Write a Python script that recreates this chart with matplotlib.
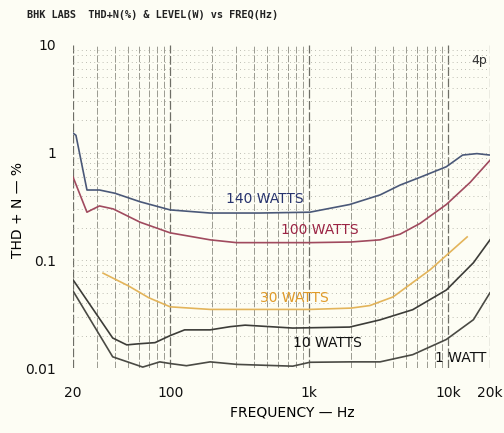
import numpy as np
import matplotlib.pyplot as plt

# THD+N (%) vs frequency (Hz)
freq_140w = [20, 21, 25.2, 31, 40, 60.8, 100, 194, 442, 1011, 1957, 3235, 4510, 6270, 9700, 12700, 16100, 20000]
thd_140w = [1.52, 1.45, 0.45, 0.45, 0.42, 0.35, 0.294, 0.275, 0.275, 0.28, 0.33, 0.405, 0.50, 0.59, 0.74, 0.95, 0.98, 0.95]

freq_100w = [20, 25.2, 28, 31, 39, 60.8, 100, 194, 300, 1011, 2000, 3235, 4510, 6270, 9700, 14400, 20000]
thd_100w = [0.595, 0.28, 0.30, 0.32, 0.30, 0.226, 0.18, 0.155, 0.146, 0.146, 0.148, 0.155, 0.175, 0.22, 0.33, 0.53, 0.85]

freq_30w = [32.9, 50, 70, 100, 194, 303, 1011, 2000, 2730, 4010, 7400, 13700]
thd_30w = [0.076, 0.058, 0.045, 0.037, 0.035, 0.035, 0.035, 0.036, 0.038, 0.0457, 0.0815, 0.165]

freq_10w = [20, 38.6, 48.7, 60, 77.8, 100, 127, 194, 270, 346, 762, 1957, 3235, 5560, 9700, 15200, 20000]
thd_10w = [0.066, 0.019, 0.0164, 0.0168, 0.0172, 0.020, 0.0226, 0.0226, 0.0242, 0.025, 0.0235, 0.024, 0.028, 0.0348, 0.053, 0.095, 0.155]

freq_1w = [20, 38.6, 63.5, 84.2, 100, 131, 194, 303, 762, 1011, 1957, 3235, 5560, 9700, 15200, 20000]
thd_1w = [0.052, 0.0127, 0.0102, 0.0114, 0.011, 0.0105, 0.0114, 0.0108, 0.0104, 0.0113, 0.0114, 0.0114, 0.0133, 0.0184, 0.0281, 0.05]

series = [
    (freq_140w, thd_140w, '#4a5878', '140 WATTS', '#27336e', 481, 0.372),
    (freq_100w, thd_100w, '#a04a5e', '100 WATTS', '#9b2444', 1196, 0.191),
    (freq_30w, thd_30w, '#e3b45a', '30 WATTS', '#e09a28', 778, 0.0448),
    (freq_10w, thd_10w, '#3c3c38', '10 WATTS', '#111111', 1343, 0.0171),
    (freq_1w, thd_1w, '#4a4a44', '1 WATT', '#111111', 12370, 0.0124),
]

bg = '#fdfdf4'
fig = plt.figure(figsize=(5.04, 4.33), dpi=100, facecolor=bg)
ax = fig.add_axes([73 / 504, 1 - 368 / 433, 417 / 504, 323 / 433], facecolor=bg)
ax.set_xscale('log')
ax.set_yscale('log')
ax.set_xlim(20, 20000)
ax.set_ylim(0.01, 10)

# graph-paper grid
for dec in [10, 100, 1000, 10000]:
    for m in range(1, 10):
        f = dec * m
        if 20 <= f <= 20000:
            dark = m == 1 or f in (20, 20000)
            ax.axvline(f, color='#6e6e66' if dark else '#9a9a90', lw=0.9 if dark else 0.7,
                       ls=(0, (7, 2)), zorder=1)
for dec in [0.01, 0.1, 1]:
    for m in range(1, 10):
        ax.axhline(dec * m, color='#a8a89e', lw=0.6, ls=(0, (1, 4)), zorder=1)

for f, v, c, label, tc, lx, ly in series:
    ax.plot(f, v, color=c, lw=1.2, zorder=3)
    ax.text(lx, ly, label, color=tc, fontsize=10, ha='center', va='center', zorder=4)

for s in ax.spines.values():
    s.set_visible(False)

ax.set_xticks([20, 100, 1000, 10000, 20000])
ax.set_xticklabels(['20', '100', '1k', '10k', '20k'])
ax.set_yticks([0.01, 0.1, 1, 10])
ax.set_yticklabels(['0.01', '0.1', '1', '10'])
ax.minorticks_off()
ax.tick_params(axis='both', length=0, labelsize=10, colors='#111111')
ax.tick_params(axis='x', pad=13)
ax.tick_params(axis='y', pad=12)

ax.set_xlabel('FREQUENCY — Hz', fontsize=10, va='center')
ax.xaxis.set_label_coords((292 - 73) / 417, -(413 - 368) / 323)
ax.set_ylabel('THD + N — %', fontsize=10, va='center')
ax.yaxis.set_label_coords(-(73 - 18) / 417, (368 - 210) / 323)

ax.text(19000, 7.2, '4p', fontsize=9, ha='right', va='center', color='#333333')
fig.text(27 / 504, 1 - 15 / 433, 'BHK LABS  THD+N(%) & LEVEL(W) vs FREQ(Hz)',
         fontsize=7.4, family='DejaVu Sans Mono', weight='bold', va='center', color='#222222')

fig.savefig('out.png', dpi=100, facecolor=bg)
